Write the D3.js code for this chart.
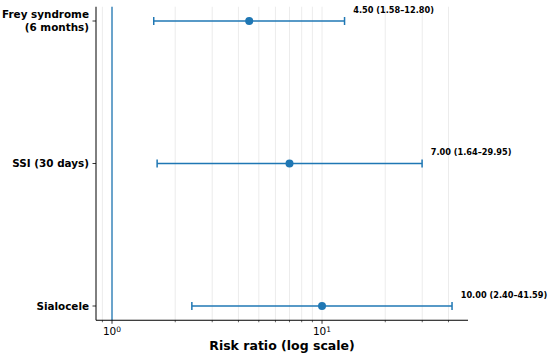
<!DOCTYPE html>
<html>
<head>
<meta charset="utf-8">
<script src="https://cdn.jsdelivr.net/npm/d3@7"></script>
<style>
  body { margin: 0; background: #fff; }
  svg { font-family: "DejaVu Sans", sans-serif; }
</style>
</head>
<body>
<div id="chart"></div>
<script>
// Outcomes, top to bottom
const outcomes = [["Frey syndrome", "(6 months)"], ["SSI (30 days)"], ["Sialocele"]];
const riskRatio = [4.50, 7.00, 10.00];
const ciLower = [1.58, 1.64, 2.40];
const ciUpper = [12.80, 29.95, 41.59];
const labels = ["4.50 (1.58\u201312.80)", "7.00 (1.64\u201329.95)", "10.00 (2.40\u201341.59)"];
const majorTicks = [1, 10];
const minorTicks = [0.9, 2, 3, 4, 5, 6, 7, 8, 9, 20, 30, 40];

const margin = {top: 6.75, right: 82, bottom: 35.75, left: 96},
  width = 550 - margin.left - margin.right,
  height = 356 - margin.top - margin.bottom;

const blue = "#1f77b4";

const svg = d3.select("#chart")
  .append("svg")
  .attr("width", 550)
  .attr("height", 356)
  .append("g")
  .attr("transform", `translate(${margin.left},${margin.top})`);

const x = d3.scaleLog()
  .domain([Math.pow(10, -0.0762), Math.pow(10, 1.695)])
  .range([0, width]);

const y = d3.scaleLinear()
  .domain([-0.1, 2.1])
  .range([0, height]);

// grid lines
svg.append("g")
  .selectAll("line")
  .data(minorTicks.concat(majorTicks))
  .join("line")
  .attr("x1", d => x(d)).attr("x2", d => x(d))
  .attr("y1", 0).attr("y2", height)
  .attr("stroke", "#b0b0b0")
  .attr("stroke-opacity", 0.3)
  .attr("stroke-width", 0.8);

// reference line at RR = 1
svg.append("line")
  .attr("x1", x(1)).attr("x2", x(1))
  .attr("y1", 0).attr("y2", height)
  .attr("stroke", blue)
  .attr("stroke-width", 1.3);

// error bars
const rows = svg.append("g")
  .selectAll("g")
  .data(riskRatio.map((d, i) => i))
  .join("g");

rows.append("line")
  .attr("x1", i => x(ciLower[i])).attr("x2", i => x(ciUpper[i]))
  .attr("y1", i => y(i)).attr("y2", i => y(i))
  .attr("stroke", blue).attr("stroke-width", 1.5);

rows.selectAll(".cap")
  .data(i => [[i, ciLower[i]], [i, ciUpper[i]]])
  .join("line")
  .attr("class", "cap")
  .attr("x1", d => x(d[1])).attr("x2", d => x(d[1]))
  .attr("y1", d => y(d[0]) - 4).attr("y2", d => y(d[0]) + 4)
  .attr("stroke", blue).attr("stroke-width", 1.5);

rows.append("circle")
  .attr("cx", i => x(riskRatio[i]))
  .attr("cy", i => y(i))
  .attr("r", 4)
  .attr("fill", blue);

rows.append("text")
  .attr("x", i => x(ciUpper[i] * 1.1))
  .attr("y", i => y(i) - 11)
  .attr("dy", "0.35em")
  .style("font-size", "8.2px")
  .style("font-weight", "bold")
  .text(i => labels[i]);

// x axis
const xAxis = svg.append("g")
  .attr("transform", `translate(0,${height})`);
xAxis.append("line")
  .attr("x1", 0).attr("x2", width)
  .attr("stroke", "#000").attr("stroke-width", 1);
xAxis.selectAll(".major")
  .data(majorTicks)
  .join("line")
  .attr("class", "major")
  .attr("x1", d => x(d)).attr("x2", d => x(d))
  .attr("y1", 0).attr("y2", 3.5)
  .attr("stroke", "#000").attr("stroke-width", 0.8);
xAxis.selectAll(".minor")
  .data(minorTicks)
  .join("line")
  .attr("class", "minor")
  .attr("x1", d => x(d)).attr("x2", d => x(d))
  .attr("y1", 0).attr("y2", 2)
  .attr("stroke", "#000").attr("stroke-width", 0.6);
const tl = xAxis.selectAll(".tlabel")
  .data(majorTicks)
  .join("text")
  .attr("class", "tlabel")
  .attr("x", d => x(d))
  .attr("y", 15)
  .attr("text-anchor", "middle")
  .style("font-size", "10.5px");
tl.append("tspan").text("10");
tl.append("tspan")
  .attr("dy", "-0.45em")
  .style("font-size", "7.5px")
  .text(d => Math.round(Math.log10(d)));

svg.append("text")
  .attr("x", width / 2)
  .attr("y", height + 30)
  .attr("text-anchor", "middle")
  .style("font-size", "12.5px")
  .style("font-weight", "bold")
  .text("Risk ratio (log scale)");

// y axis
svg.append("line")
  .attr("x1", 0).attr("x2", 0)
  .attr("y1", 0).attr("y2", height)
  .attr("stroke", "#000").attr("stroke-width", 1);
const yt = svg.append("g")
  .selectAll("g")
  .data(outcomes)
  .join("g")
  .attr("transform", (d, i) => `translate(0,${y(i)})`);
yt.append("line")
  .attr("x1", -3.5).attr("x2", 0)
  .attr("stroke", "#000").attr("stroke-width", 0.8);
yt.append("text")
  .attr("text-anchor", "end")
  .style("font-size", "10.4px")
  .style("font-weight", "bold")
  .selectAll("tspan")
  .data(d => d.map((t, j) => [t, j, d.length]))
  .join("tspan")
  .attr("x", -7)
  .attr("y", d => (d[1] - (d[2] - 1) / 2) * 12.5)
  .attr("dy", "0.35em")
  .text(d => d[0]);
</script>
</body>
</html>
